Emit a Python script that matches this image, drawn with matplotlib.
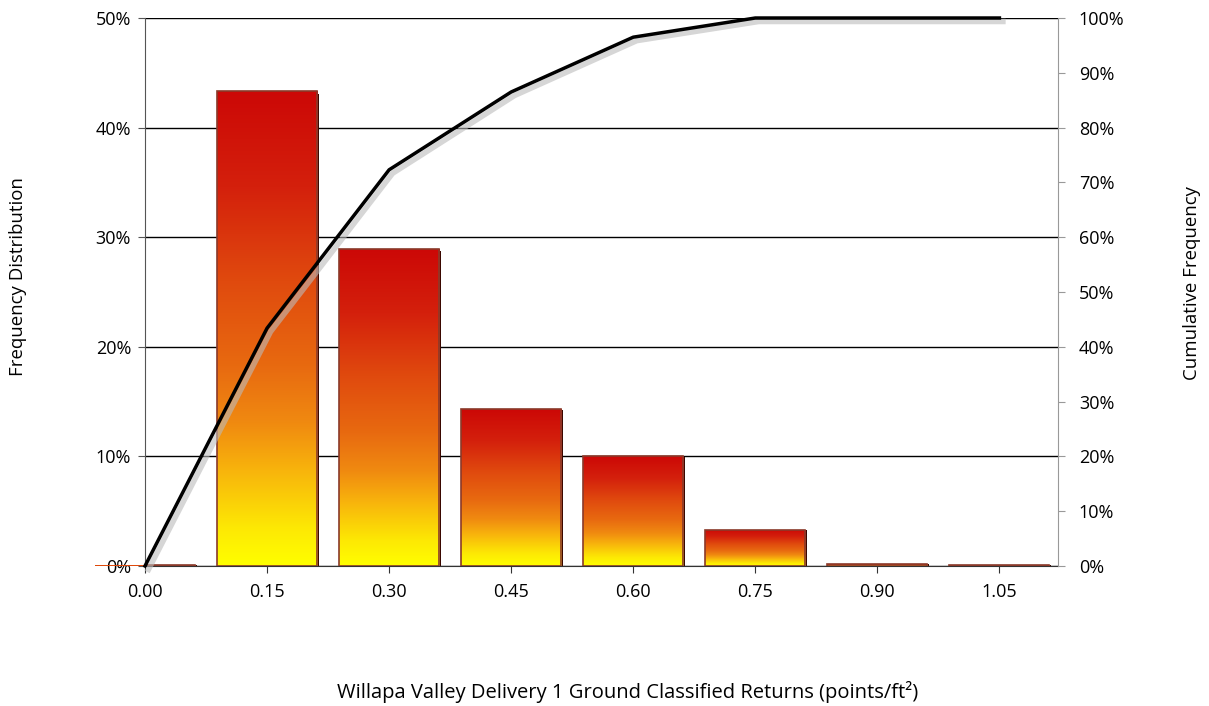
import numpy as np
import matplotlib.pyplot as plt
import matplotlib.patheffects as pe
from matplotlib.colors import LinearSegmentedColormap
from matplotlib.ticker import PercentFormatter

plt.rcParams['font.family'] = ['Open Sans', 'DejaVu Sans']

# data
categories = ["0.00", "0.15", "0.30", "0.45", "0.60", "0.75", "0.90", "1.05"]
freq = [0.05, 43.3, 28.9, 14.3, 10.0, 3.3, 0.15, 0.08]
cumulative = [0.0, 43.4, 72.3, 86.5, 96.5, 100.0, 100.0, 100.0]

x = np.arange(len(categories))
bar_w = 0.82

fig = plt.figure(figsize=(12.09, 7.06), dpi=100)
ax = fig.add_axes([145/1209, 1-566/706, (1058-145)/1209, (566-18)/706])
ax2 = ax.twinx()

# gradient for the bars, yellow bottom -> orange -> red top
cmap = LinearSegmentedColormap.from_list("fire", [
    (0.0, "#ffff00"), (0.08, "#fde804"), (0.2, "#f8b40c"), (0.3, "#f08a10"),
    (0.42, "#e86a10"), (0.6, "#e04a0e"), (0.8, "#d4200c"), (1.0, "#cc0806")])
grad = np.linspace(0, 1, 256).reshape(-1, 1)

for xi, h in zip(x, freq):
    left = xi - bar_w/2
    # dark shadow on the right edge
    ax.add_patch(plt.Rectangle((left + 0.015, 0), bar_w, h * 0.995,
                               facecolor="#3a0800", edgecolor="none", zorder=2))
    im = ax.imshow(grad, cmap=cmap, aspect="auto", origin="lower",
                   extent=[left, left + bar_w, 0, h], zorder=3)
    rect = plt.Rectangle((left, 0), bar_w, h, facecolor="none",
                         edgecolor="#8a3a2a", linewidth=1.2, zorder=4)
    ax.add_patch(rect)
    im.set_clip_path(rect)

ax.set_xlim(0, 7.48)
ax.set_ylim(0, 50)
ax2.set_ylim(0, 100)

ax.set_yticks(np.arange(0, 51, 10))
ax.yaxis.set_major_formatter(PercentFormatter(decimals=0))
ax.grid(axis="y", color="black", linewidth=1)
ax.set_axisbelow(True)
ax.set_xticks(x)
ax.set_xticklabels(categories)

ax2.plot(x, cumulative, color="black", linewidth=2.5, zorder=5, clip_on=False,
         path_effects=[pe.SimpleLineShadow(offset=(2.5, -2.5), shadow_color="#bbbbbb", alpha=0.6, linewidth=4),
                       pe.Normal()])
ax2.set_yticks(np.arange(0, 101, 10))
ax2.yaxis.set_major_formatter(PercentFormatter(decimals=0))
ax.set_zorder(1)
ax.patch.set_visible(False)
ax2.set_zorder(2)
ax2.patch.set_visible(False)

for a in (ax, ax2):
    a.spines["top"].set_visible(False)
ax.spines["left"].set_color("#555555")
ax.spines["bottom"].set_color("#333333")
ax.spines["right"].set_visible(False)
ax2.spines["left"].set_visible(False)
ax2.spines["bottom"].set_visible(False)
ax2.spines["right"].set_color("#999999")

ax.tick_params(axis="y", length=5, color="#555555", labelsize=13, pad=5)
ax.tick_params(axis="x", length=5, color="#333333", labelsize=13, pad=7)
ax2.tick_params(axis="y", length=5, color="#999999", labelsize=13, pad=10)

fig.text(18/1209, 1-277/706, "Frequency Distribution", rotation=90, ha="center", va="center", fontsize=13.4)
fig.text(1192/1209, 1-283/706, "Cumulative Frequency", rotation=90, ha="center", va="center", fontsize=13.4)
fig.text(628/1209, 1-692/706, "Willapa Valley Delivery 1 Ground Classified Returns (points/ft²)",
         ha="center", va="center", fontsize=14.5)

fig.savefig("out.png", dpi=100)
